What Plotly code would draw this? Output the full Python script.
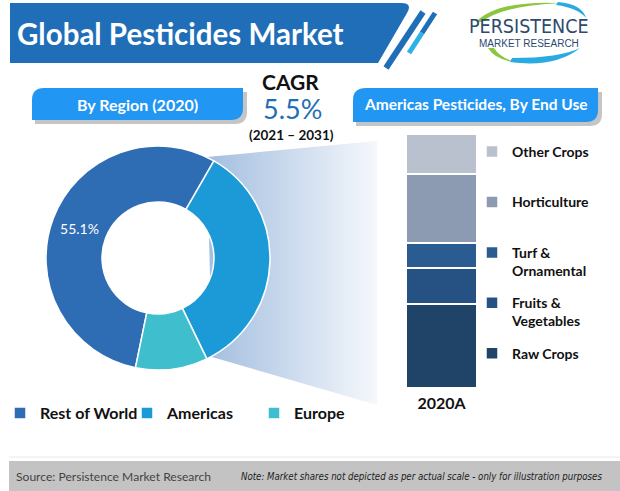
import plotly.graph_objects as go

W, H = 620, 491

# ---------------- data ----------------
regions = ["Rest of World", "Americas", "Europe"]
region_share = [55.1, 34.5, 10.4]
region_text = ["55.1%", "", ""]
region_colors = ["#2E6DB4", "#1C9AD8", "#3FBFCE"]

end_uses = ["Raw Crops", "Fruits & Vegetables", "Turf & Ornamental", "Horticulture", "Other Crops"]
end_use_legend = ["Raw Crops<br> ", "Fruits &<br>Vegetables", "Turf &<br>Ornamental",
                  "Horticulture<br> ", "Other Crops<br> "]
end_use_share = [33.1, 14.2, 9.8, 27.2, 15.7]
end_use_colors = ["#1F4468", "#255283", "#2B5C91", "#8C9AB2", "#B9C1CF"]
end_use_rank = [5, 4, 3, 2, 1]
bar_category = ["2020A"]

title_text = "Global Pesticides Market"
left_header = "By Region (2020)"
right_header = "Americas Pesticides, By End Use"
cagr_label = "CAGR"
cagr_value = "5.5%"
cagr_period = "(2021 – 2031)"
source_text = "Source: Persistence Market Research"
note_text = "Note: Market shares not depicted as per actual scale - only for illustration purposes"

FONT = "Lato"
NARROW = "Liberation Sans Narrow, DejaVu Sans Condensed, Roboto Condensed, Roboto"

fig = go.Figure()

# funnel (decorative gradient) on the full-page pixel axes
fig.add_trace(go.Scatter(
    x=[207, 377, 377, 212, 207], y=[157, 141, 405, 357, 157],
    mode="lines", fill="toself", line=dict(width=0),
    fillgradient=dict(type="horizontal",
                      colorscale=[[0, "#A3BEDF"], [1, "#F5F8FC"]]),
    hoverinfo="skip", showlegend=False, xaxis="x", yaxis="y"))

# donut
cx, cy, r = 158, 258, 112
fig.add_trace(go.Pie(
    labels=regions, values=region_share, text=region_text, textinfo="text",
    hole=0.5, sort=False, direction="clockwise", rotation=191.6,
    marker=dict(colors=region_colors, line=dict(color="white", width=1.5)),
    textposition="inside", insidetextorientation="horizontal",
    textfont=dict(family=FONT, size=14, color="white"),
    domain=dict(x=[(cx - r) / W, (cx + r) / W], y=[1 - (cy + r) / H, 1 - (cy - r) / H]),
    legend="legend", hoverinfo="label+percent"))

# stacked bar
for name, lg, v, c, rk in zip(end_uses, end_use_legend, end_use_share, end_use_colors, end_use_rank):
    fig.add_trace(go.Bar(
        x=bar_category, y=[v], name=lg, legendgroup=name, legendrank=rk,
        marker=dict(color=c, line=dict(color="white", width=1.5)),
        width=1, xaxis="x2", yaxis="y2", legend="legend2",
        hovertemplate=name + ": %{y}<extra></extra>"))

def S(path, fill, layer="above"):
    return dict(type="path", path=path, xref="x", yref="y", fillcolor=fill,
                line=dict(width=0), layer=layer)

shapes = [
    # title banner
    S("M10,3 L401,3 Q413,3 407,13 L378,63 L10,63 Z", "#1F6EB7"),
    dict(type="line", x0=423, y0=12, x1=386, y1=68, xref="x", yref="y",
         line=dict(color="#1F6EB7", width=6)),
    dict(type="line", x0=435, y0=13, x1=422, y1=33, xref="x", yref="y",
         line=dict(color="#1F6EB7", width=5)),
    dict(type="line", x0=422, y0=33, x1=409, y1=53, xref="x", yref="y",
         line=dict(color="#2BB3E6", width=5)),
    # header pills with shadow
    S("M47,92 H247 V112 Q247,124 235,124 H35 V104 Q35,92 47,92 Z", "rgba(90,90,90,0.35)"),
    S("M44,88 H243 V108 Q243,120 231,120 H32 V100 Q32,88 44,88 Z", "#2196F3"),
    S("M369,92 H602 V114 Q602,126 590,126 H356 V104 Q356,92 369,92 Z", "rgba(90,90,90,0.35)"),
    S("M366,88 H598 V110 Q598,122 586,122 H353 V100 Q353,88 366,88 Z", "#2196F3"),
    # logo swooshes
    S("M476,22 Q496,0 562,3 Q500,6 482,22 Z", "#8CC63F"),
    S("M558,2 Q582,4 586,18 Q578,8 556,5 Z", "#29ABE2"),
    S("M488,48 Q495,60 518,63 Q500,58 494,48 Z", "#8CC63F"),
    S("M510,62 Q555,68 580,48 Q560,58 512,58 Z", "#29ABE2"),
    # footer
    dict(type="line", x0=9, y0=457, x1=620, y1=457, xref="x", yref="y",
         line=dict(color="#E8E8E8", width=1)),
    dict(type="rect", x0=9, y0=461, x1=620, y1=491, xref="x", yref="y",
         fillcolor="#C3C3C3", line=dict(width=0)),
]

def A(x, y, text, size, color="#111111", xanchor="center", family=FONT):
    return dict(x=x, y=y, xref="x", yref="y", text=text, showarrow=False,
                xanchor=xanchor, yanchor="middle",
                font=dict(family=family, size=size, color=color))

annotations = [
    A(15, 33, "<b>" + title_text + "</b>", 29.5, "white", "left"),
    A(137, 104, "<b>" + left_header + "</b>", 16, "white"),
    A(476, 104, "<b>" + right_header + "</b>", 15.5, "white"),
    A(290, 81, "<b>" + cagr_label + "</b>", 21),
    A(292, 108, cagr_value, 27, "#1F6EB7"),
    A(291, 134.5, "<b>" + cagr_period + "</b>", 13.5),
    A(529, 26, "PERSISTENCE", 19.5, "#2C4A6E", family=NARROW),
    A(529, 43, "MARKET RESEARCH", 10, "#2C4A6E", family="Liberation Sans"),
    A(14, 476, source_text, 12.1, "#444444", "left"),
    A(239, 476, "<i>" + note_text + "</i>", 9.6, "#222222", "left", family=NARROW),
]

fig.update_layout(
    width=W, height=H, margin=dict(l=0, r=0, t=0, b=0, autoexpand=False),
    paper_bgcolor="white", plot_bgcolor="rgba(0,0,0,0)",
    barmode="stack", showlegend=True,
    xaxis=dict(domain=[0, 1], range=[0, W], visible=False, fixedrange=True),
    yaxis=dict(domain=[0, 1], range=[H, 0], visible=False, fixedrange=True),
    xaxis2=dict(domain=[406 / W, 477 / W], range=[-0.5, 0.5], anchor="y2",
                showgrid=False, zeroline=False, showline=False, ticks="",
                ticklabelstandoff=4,
                tickfont=dict(family=FONT, size=16, color="#111111", weight="bold")),
    yaxis2=dict(domain=[1 - 388 / H, 1 - 134 / H], range=[0, 100], anchor="x2",
                visible=False),
    legend=dict(orientation="h", x=0, y=1 - 396 / H, xanchor="left", yanchor="top",
                entrywidth=82, entrywidthmode="pixels",
                font=dict(family=FONT, size=16, color="#111111", weight="bold"),
                bgcolor="rgba(0,0,0,0)"),
    legend2=dict(x=472 / W, y=1 - 136 / H, xanchor="left", yanchor="top",
                 traceorder="grouped", tracegroupgap=11, valign="top",
                 font=dict(family=FONT, size=14, color="#111111", weight="bold"),
                 bgcolor="rgba(0,0,0,0)"),
    shapes=shapes, annotations=annotations,
)

fig.write_html("out.html", config={"displayModeBar": False},
               post_script="document.body.style.margin='0';document.body.style.overflow='hidden';")
